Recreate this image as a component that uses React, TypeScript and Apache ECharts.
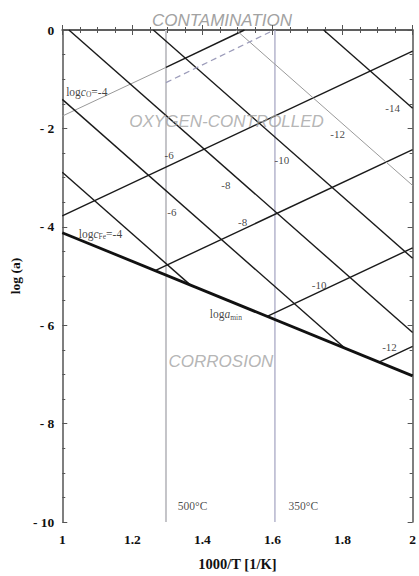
import React, { useEffect, useRef } from 'react';
import * as echarts from 'echarts';

// Axis tick labels
const xTickLabels = ['1', '1.2', '1.4', '1.6', '1.8', '2'];
const yTickLabels = ['- 10', '- 8', '- 6', '- 4', '- 2', '0'];

// Minimum activity line (log a_min)
const logAMinLine = [[1, -4.12], [2, -7.03]];

// Iso-oxygen-concentration lines (log c_O), ascending
const cOLevels = [-4, -6, -8, -10, -12];
const cOStart = [[1.296, -0.76], [1, -3.78], [1.265, -4.89], [1.585, -5.82], [1.904, -6.75]];
const cOEnd = [[1.52, 0], [2, -0.43], [2, -2.43], [2, -4.43], [2, -6.43]];
// thin grey part of log c_O = -4 below 500 degC line
const cO4Grey = [[1, -1.75], [1.296, -0.76]];
// dashed line
const dashedLine = [[1.296, -1.07], [1.593, -0.04]];

// Iso-iron-concentration lines (log c_Fe), descending
const cFeLevels = [-4, -6, -8, -10, -12, -14];
const cFeStart = [[1, -2.89], [1, -1.41], [1.019, 0], [1.26, 0], [1.496, 0], [1.746, 0]];
const cFeEnd = [[1.366, -5.185], [1.807, -6.47], [2, -6.15], [2, -4.64], [2, -3.16], [2, -1.59]];
const cFeGrey = [false, false, false, false, true, false];

// Temperature markers
const tempX = [1.296, 1.607];
const tempLabels = ['500°C', '350°C'];
const tempLabelPos = [[1.372, -9.68], [1.688, -9.68]];

// Level labels [x, y, text]
const feLabels = [
  [1.313, -3.69, '-6'],
  [1.467, -3.15, '-8'],
  [1.627, -2.65, '-10'],
  [1.786, -2.11, '-12'],
  [1.943, -1.59, '-14'],
];
const oLabels = [
  [1.305, -2.55, '-6'],
  [1.515, -3.9, '-8'],
  [1.733, -5.18, '-10'],
  [1.934, -6.45, '-12'],
];

const SERIF = '"Liberation Serif", "DejaVu Serif", serif';
const SANS = '"Liberation Sans", Arial, sans-serif';

export default function App() {
  const ref = useRef<HTMLDivElement>(null);
  useEffect(() => {
    if (!ref.current) return;
    const chart = echarts.init(ref.current, undefined, { renderer: 'svg' });

    const series: any[] = [];
    const seg = (data: number[][], color: string, width: number, type: any = 'solid') => ({
      type: 'line',
      data,
      showSymbol: false,
      silent: true,
      clip: true,
      lineStyle: { color, width, type },
      z: 3,
    });

    tempX.forEach((x) => {
      series.push(seg([[x, 0], [x, -10]], x < 1.4 ? '#c4c4c8' : '#a9a9c4', x < 1.4 ? 2 : 1.3));
    });
    series.push(seg(cO4Grey, '#9a9a9a', 1));
    cOLevels.forEach((_, i) => series.push(seg([cOStart[i], cOEnd[i]], '#1a1a1a', 1.4)));
    cFeLevels.forEach((_, i) =>
      series.push(seg([cFeStart[i], cFeEnd[i]], cFeGrey[i] ? '#9a9a9a' : '#1a1a1a', cFeGrey[i] ? 1 : 1.4))
    );
    series.push(seg(dashedLine, '#9c9cba', 1.3, [6, 4]));
    series.push(seg(logAMinLine, '#111', 2.8));

    const noHalo = { textBorderWidth: 0, textBorderColor: 'transparent', textShadowBlur: 0 };
    const txt = (fs: number) => ({ fontFamily: SERIF, fontSize: fs, color: '#111', ...noHalo });
    const labelData: any[] = [];
    [...feLabels, ...oLabels].forEach((l) => {
      labelData.push({ value: [l[0], l[1]], label: { formatter: String(l[2]), ...txt(11) } });
    });
    tempLabels.forEach((t, i) => {
      labelData.push({ value: tempLabelPos[i], label: { formatter: t, ...txt(11.5), color: '#222' } });
    });
    const rich = {
      n: { fontFamily: SERIF, fontSize: 11.5, color: '#111', lineHeight: 14, ...noHalo },
      i: { fontFamily: SERIF, fontSize: 11.5, fontStyle: 'italic', color: '#111', lineHeight: 14, ...noHalo },
      s: { fontFamily: SERIF, fontSize: 7.5, color: '#111', lineHeight: 14, verticalAlign: 'bottom', padding: [5, 0, 0, 0], ...noHalo },
    };
    labelData.push({ value: [1.07, -1.255], label: { formatter: '{n|log}{i|c}{s|O}{n|=-4}', rich, ...noHalo } });
    labelData.push({ value: [1.109, -4.14], label: { formatter: '{n|log}{i|c}{s|Fe}{n|=-4}', rich, ...noHalo } });
    labelData.push({ value: [1.467, -5.78], label: { formatter: '{n|log}{i|a}{s|min}', rich, ...noHalo } });
    const region = { fontFamily: SANS, fontStyle: 'italic', fontSize: 17, color: '#a2a2a2', ...noHalo };
    labelData.push({ value: [1.469, -1.85], label: { formatter: 'OXYGEN-CONTROLLED', ...region } });
    labelData.push({ value: [1.453, -6.73], label: { formatter: 'CORROSION', ...region } });

    series.push({
      type: 'scatter',
      data: labelData,
      symbolSize: 0,
      silent: true,
      z: 5,
      itemStyle: { color: '#111' },
      label: { show: true, position: 'inside', color: '#111', ...noHalo },
    });

    const axisLine = { show: true, lineStyle: { color: '#555', width: 1.5 } };
    const tickStyle = { inside: true, length: 5, lineStyle: { color: '#555', width: 1 } };
    const minorTick = { show: true, splitNumber: 4, length: 3, lineStyle: { color: '#555', width: 1 } };

    chart.setOption({
      animation: false,
      grid: { left: 61, right: 1, top: 30, bottom: 44 },
      xAxis: [
        {
          type: 'value', min: 1, max: 2, interval: 0.2, position: 'bottom',
          axisLine, axisTick: tickStyle, minorTick, splitLine: { show: false },
          axisLabel: {
            margin: 10, fontFamily: SERIF, fontWeight: 'bold', fontSize: 13.5, color: '#111',
            formatter: (v: number) => xTickLabels[Math.round((v - 1) / 0.2)] ?? '',
          },
          name: '1000/T [1/K]', nameLocation: 'middle', nameGap: 34,
          nameTextStyle: { fontFamily: SERIF, fontWeight: 'bold', fontSize: 14.5, color: '#111' },
        },
        {
          type: 'value', min: 1, max: 2, interval: 0.2, position: 'top',
          axisLine, axisTick: tickStyle, minorTick, splitLine: { show: false },
          axisLabel: { show: false },
        },
      ],
      yAxis: [
        {
          type: 'value', min: -10, max: 0, interval: 2, position: 'left',
          axisLine, axisTick: tickStyle, minorTick, splitLine: { show: false },
          axisLabel: {
            margin: 8, fontFamily: SERIF, fontWeight: 'bold', fontSize: 13.5, color: '#111',
            formatter: (v: number) => yTickLabels[Math.round((v + 10) / 2)] ?? '',
          },
          name: 'log (a)', nameLocation: 'middle', nameGap: 36,
          nameTextStyle: { fontFamily: SERIF, fontWeight: 'bold', fontSize: 13.5, color: '#111' },
        },
        {
          type: 'value', min: -10, max: 0, interval: 2, position: 'right',
          axisLine, axisTick: tickStyle, minorTick, splitLine: { show: false },
          axisLabel: { show: false },
        },
      ],
      graphic: [
        {
          type: 'text', x: 222, y: 20, silent: true,
          style: {
            text: 'CONTAMINATION', font: 'italic 17px "Liberation Sans", Arial, sans-serif',
            fill: '#a2a2a2', textAlign: 'center', textVerticalAlign: 'middle',
          },
        },
      ],
      series,
    });
    return () => chart.dispose();
  }, []);
  return <div ref={ref} style={{ position: 'absolute', left: 0, top: 0, width: 419, height: 576 }} />;
}
